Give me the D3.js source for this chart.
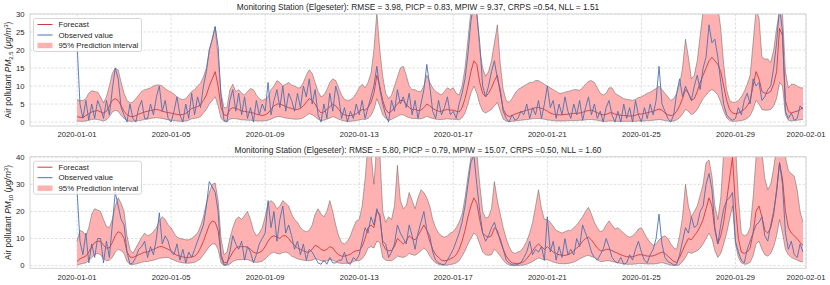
<!DOCTYPE html>
<html><head><meta charset="utf-8">
<script src="https://cdn.jsdelivr.net/npm/d3@7"></script>
<style>
html,body{margin:0;padding:0;background:#fff;}
svg{display:block;font-family:"Liberation Sans",Arial,Helvetica,sans-serif;}
</style></head>
<body>
<svg id="chart" width="830" height="285"></svg>
<script>
// ---- data: 3-hourly values starting 2020-01-01 00:00 ----
const startDate = "2020-01-01T00:00:00Z";
const stepHours = 3;
const xTickLabels = ["2020-01-01","2020-01-05","2020-01-09","2020-01-13","2020-01-17","2020-01-21","2020-01-25","2020-01-29","2020-02-01"];
const pm25Ticks = [0,5,10,15,20,25,30];
const pm10Ticks = [0,10,20,30,40];
const legendLabels = ["Forecast","Observed value","95% Prediction interval"];
const titles = [
  "Monitoring Station (Elgeseter): RMSE = 3.98, PICP = 0.83, MPIW = 9.37, CRPS =0.54, NLL = 1.51",
  "Monitoring Station (Elgeseter): RMSE = 5.80, PICP = 0.79, MPIW = 15.07, CRPS =0.50, NLL = 1.60"
];

const pm25Upper = [
6.2,6,6,6.5,8,8.7,8.5,8.3, 7,5.3,7,10,13.5,15,14.5,11, 8,6,5.3,5.5,6.5,7.5,8.5,9, 9.2,9.5,10,10.3,10.3,10,9.3,8.7,
8.3,7.8,7,6.5,6.2,6.5,7.5,8.5, 9,10,10.8,12.5,15,20,23,26.5, 18,8,4,4,9,10.5,8.5,9, 8,7.5,8.5,9.3,9,7.5,6.5,6,
6.3,7,9,10,11.5,11,10,10.5, 11,10.3,10,9.5,9.5,11,13,14.5, 13.5,11,8.5,7,7.5,9,11,12, 11.5,9.5,7.5,6.3,6,6.2,6.8,8,
9.5,10.5,9.5,11,13.5,20,30.5,20, 12.7,8,6.5,7.5,10,12.5,15,15.5, 13,10,9,9,8.5,8.5,10,13, 11,9.5,8.5,8,7.5,8.5,9.5,9,
9.5,8,7.5,10,15,23,31,35, 31,20,15,12.7,14,17,22,27, 16,9,6,5.5,6.5,8,9,9.5, 10,10.5,11,11,11.5,11.5,11,10.5,
10,9.5,9,8.5,8,8,8.3,8.5, 8.7,9,9,8.8,9.5,10.5,11.3,11.5, 11,9.5,8,7.5,8,9.5,9.5,8, 7.5,7,6.5,6.3,6.2,6,6.3,6.8,
7,7.5,8,8.3,8.8,9.3,10,9, 8,7,6,6.5,8,10.5,15,23, 18,12,13,17,24,31,36,38, 38,36,32,26,16,9,6,5.5,
5.5,6,7,8.5,10.5,13,22,31, 29,18,17.5,17.5,16.5,20,26,31, 30,14,9.5,10.5,10.5,10,9.5,9.5
];
const pm25Forecast = [
1.5,1.3,1.3,1.8,2.3,2.8,3,3.2, 2.8,2.5,3,4.5,6,6.5,6,4.5, 3,2,1.6,1.5,1.8,2.2,2.5,2.8, 3,3.2,3.4,3.5,3.3,3,2.8,2.6,
2.5,2.3,2.1,2,2.1,2.4,3,3.8, 4,4.3,4.8,6,7.5,10,12,14, 10,4,2,1.8,3.5,4,3.8,3.5, 3,3,2.8,2.7,2.5,2.2,2,1.8,
2,2.5,3.5,4.5,5,5,4.7,4.3, 4,3.8,3.5,3.5,3.8,4.5,5.5,6.5, 6,5,3.5,2.5,2.8,3.5,4.2,5, 4.5,3.5,2.5,2,1.8,1.8,2,2.3,
3,3.5,3.3,4,5.5,8,13,10, 6,3.5,2.5,3,4,5,6,6, 5,4,3.5,3.5,3.2,3.3,4,5, 4.5,3.8,3.3,3,3,3.3,3.5,3.3,
3.3,3,2.8,4,6.5,10,14,17, 16,11,8,7,8,9.5,11.5,13, 8,3.5,2,1.5,1.8,2.2,2.5,2.8, 3,3.3,3.5,3.7,4,4,3.8,3.5,
3,2.5,2.2,2,2,2,2.1,2.2, 2.3,2.4,2.4,2.5,2.7,3,3.2,3.3, 3,2.6,2.2,2,2.1,2.5,2.6,2.2, 2,1.9,1.8,1.7,1.7,1.7,1.9,2.2,
2.2,2.4,2.6,2.8,3,3.3,3.6,3.3, 2.5,2,1.8,2,3,4.5,6.5,9, 8,6,6.5,8.5,11,13,15,17, 18,17,16,14,10,6,3.5,2.5,
2.3,2.5,3,3.5,4.5,6,10,14, 12,8.5,8,8,8.5,10.5,14,26, 24,6,3,2.5,2.8,3,3.5,4
];
const pm25Lower = [
0.3,0.2,0.2,0.3,0.5,0.7,0.8,0.7, 0.5,0.3,0.6,1.5,2.8,3.2,3,1.8, 1,0.4,0.2,0.2,0.3,0.4,0.5,0.7, 0.8,1,1.1,1.2,1.1,1,0.8,0.6,
0.5,0.4,0.3,0.2,0.2,0.3,0.5,0.9, 1,1.2,1.5,2.5,3.5,5,6,7, 4.5,1,0.2,0.2,0.8,1,0.9,0.8, 0.6,0.6,0.5,0.5,0.4,0.3,0.3,0.3,
0.4,0.5,0.8,1.2,1.5,1.5,1.3,1.1, 1,0.9,0.8,0.8,0.9,1.2,1.8,2.3, 2,1.5,0.8,0.4,0.5,0.8,1.1,1.5, 1.2,0.8,0.5,0.3,0.2,0.2,0.3,0.4,
0.6,0.8,0.7,1,1.8,3.5,6.5,4.5, 2,1,0.5,0.7,1.2,1.6,2,2, 1.5,1.2,1,1,0.9,0.9,1.2,1.6, 1.2,1,0.8,0.7,0.7,0.8,0.9,0.8,
0.8,0.7,0.6,1.2,2.5,5,8,10, 8,5,3,2.5,3,3.5,4.5,5.5, 3,0.8,0.3,0.1,0.2,0.3,0.4,0.5, 0.6,0.7,0.8,0.9,1,1,0.9,0.8,
0.6,0.5,0.4,0.3,0.3,0.3,0.3,0.4, 0.4,0.4,0.4,0.5,0.5,0.6,0.7,0.7, 0.6,0.5,0.3,0.2,0.2,0.3,0.3,0.2, 0.2,0.2,0.2,0.2,0.2,0.2,0.2,0.3,
0.3,0.3,0.4,0.4,0.5,0.6,0.7,0.6, 0.4,0.3,0.2,0.3,0.6,1.2,2.2,3.5, 3,2,2.5,3.5,5,6.5,7.5,8.5, 9,8.5,7.5,5.5,3,1.2,0.4,0.2,
0.2,0.3,0.4,0.6,1,1.8,3.5,6, 5,3.5,3.3,3.3,3.5,4.5,6.5,11, 10,2,0.5,0.3,0.4,0.5,0.6,0.7
];
const pm25Observed = [
22,5,1,6,0.5,5,1,6, 4,1,6,2,9,15,12,4, 2,0,5,1,0,4,6,1, 1,5,2,7,10,3,6,1,
0,3,7,2,0,5,1,8, 2,7,4,10,14,20,23,26.5, 21,7,0.5,0,6,9,3,8, 2,7,1,4,0,6,2,5,
3,11,2,6,9,4,10,3, 8,6,3,8,4,10,7,12, 5,9,2,0,5,1,8,3, 10,7,1,4,0,3,1,5,
2,6,1,4,7,10,15.5,9, 5,2,0,6,3,9,5,7, 4,8,2,6,1,5,9,16, 10,3,1,6,2,4,7,2,
3,1,5,8,12,19,28,33, 30,22,10,7,10,14,17,12, 9,3,1,0,2,0.5,1,3, 2,5,1,4,2,6,1,5,
10,4,6,1,5,2,7,3, 1,5,2,6,0.5,4,7,2, 5,1,3,0,4,6,2,0, 3,0,5,1,4,0,6,2,
0,4,1,5,2,6,15.5,5, 3,1,0,2,8,12,7,10, 8,6,10,13,9,15,18,27, 22,23,18,11,5,2,1,0.5,
1,4,2,6,8,5,12,10, 11,6,7,9,10,15,22,32, 25,3,1,2.5,0.5,1,4.5,3.5
];

const pm10Upper = [
9,13,12.5,11,14,19,21,20.5, 20,17,14.5,14,17,22,25,23, 20,11,6,4.5,6.5,8.5,10.5,12, 11,11.5,12.5,14,16.5,18,17,15,
14,12,10.5,10,9.8,9.5,9.5,10, 11,12,14.5,18,23,27,30,30.5, 24,10,4,5,10,14,17,18, 17,18.5,20,17,13,11,12,14,
18,23,24,23,21,22,24,23, 22,19,17,16,14,13,12.5,13, 15,19,21,19,18,20,24,20, 15,11,8.5,8,9,11,14,16.5,
17,22,32,45,42,30,45,42, 20,16,18,17,22,37,24,21, 22,27,24,21,25,28,27,25, 22,17,14,12,11,10.5,11,12,
12.5,14,16,19,25,33,40,45, 42,30,20,17.5,18,21,31,24, 19,14,10,7,5,4.5,5,5.5, 7,9,12,16,22,28,21,17,
17,16,14.5,13,12.5,12,12.5,13, 13,14,15,16.5,18,20,21.5,19, 16,14,12.5,13,15,16.5,15,13.5, 14,13,12,11,10.5,11,12,13.5,
14,12,10,8.5,7.5,8,9.5,10.5, 11,10,8,6.5,6,11,18,30, 22,18,20,22,26,30,38,39, 33,22,17,25,42,48,50,50,
45,25,12,11,11.5,14,25,40, 45,42,32,28,30,36,44,50, 45,40,35,34,33,28,20,16
];
const pm10Forecast = [
1.5,2.5,3,3.5,5,7,8.5,9, 9,7.5,6.5,6.5,8.5,11,12.5,12, 10,5,3.2,3,3.5,4,4.5,5, 5,5.5,6,6.5,7,7,6.5,6,
5.5,4.5,3.8,3.5,3.2,3,3,3.2, 3.5,4.5,6.5,9,12,15,16.5,16, 13,4,1,1.2,3,5,6.5,7, 7,7,6.8,6,5,4.5,4.8,5.5,
7,9,10.5,11,10.5,10,11,11, 10,8.5,7.5,6.5,6,5.5,5,5, 6,7.5,7,6,5.5,6,7,6.5, 5,4,3.5,3.5,3.8,4.2,5,5.5,
5.5,7,10,14,15,14,20,19, 8,6,5.5,5.5,7,10,9,8, 9,11,10,9.5,11,13,15,13, 9,6,4,3,2,1.8,2,2.5,
3,4,6,9,13,18,22,25, 23,17,12,11,10.5,11,14,13, 9,6,3.5,2,1,0.8,0.8,1, 1.5,2.5,4,5.5,7,8,7,6,
7,6,5,4.5,4,3.8,3.8,4, 4.5,5.5,6.5,7.5,9,10,10.5,9.5, 8,6.5,5.5,5.5,6,6,5.5,5, 4.5,4,3.6,3.3,3.2,3.3,3.6,4,
4,3.8,3.5,3.5,3.6,4,4.5,5, 4.5,3.5,2.5,1.5,1.2,3,5.5,8, 10,9.5,11,12.5,14.5,17,21,25, 22,13,8,11,16,24,32,40,
22,10,5,4.5,5,6.5,12,20, 22,18,13,12,14,19,28,38, 32,20,14,12,11,10,8.5,7.5
];
const pm10Lower = [
0.2,0.5,0.8,1,1.8,3,4,4.5, 4,2.5,1.8,2,3,5,6,5.5, 4.5,1.5,0.5,0.4,0.6,0.9,1.2,1.5, 1.5,1.8,2,2.3,2.7,2.8,3,3,
2.5,2,1.5,1.2,1,0.9,0.9,1, 1.2,1.8,2.5,4,5.5,7,8,8, 6,1,0,0.1,0.6,1.5,2,2.2, 2.2,2.3,2.2,1.8,1.4,1.2,1.3,1.6,
2.5,3.5,4.5,5,4.5,4.3,4.8,5, 4.5,3.5,3,2.5,2.2,2,1.8,1.8, 2,2.5,2.3,1.8,1.5,1.8,2.2,2, 1.5,1,0.8,0.8,0.9,1,1.5,1.8,
1.8,2.5,4,6.5,7,6.5,9,8.5, 3,2,1.8,1.8,2.5,3.5,3.2,3, 3.5,4.5,4,3.8,4.5,5.5,6.5,5.5, 3.5,2,1,0.5,0.2,0.1,0.2,0.4,
0.6,1,1.8,3.5,5.5,8,10,12, 11,8,5,4,3.8,4,6,5, 3.5,2,0.8,0.2,0,0,0,0.1, 0.2,0.5,1,1.5,2.2,2.8,2.5,2,
2.2,1.8,1.3,1,0.8,0.7,0.7,0.8, 1,1.3,1.8,2.5,3,3.5,3.8,3.3, 3,2.2,1.5,1.5,1.8,1.8,1.5,1.3, 1,0.8,0.6,0.5,0.5,0.5,0.6,0.8,
0.8,0.7,0.6,0.6,0.6,0.7,0.9,1.1, 0.8,0.5,0.2,0,0,0.3,1.5,3, 5,4.5,5,5.5,6.5,8,10,12, 10,5.5,3,4.5,8,12,17,22,
8,3,1,0.5,0.6,1.2,3.5,8, 9,6,4,3.5,4.5,7,11,17, 12,6,4,3,2.5,2,1.5,1.3
];
const pm10Observed = [
28,9,4,12,1,8,3,10, 10,1,9,3,15,27,22,17, 15,5,0.5,1,3,6,7,9, 3,7,4,10,19.5,8,11,9,
5,4,8,2,6,1,5,3, 6,9,12,15,22,31,29,27, 20,3,0.2,0.5,5,11,8,6, 9,2,7,5,1,4,8,10,
12,24,14,20,9,17,22,12, 15,11,6,9,4,8,2,6, 5,3,1,0.5,2,0.5,3,1, 1,2,2,5,1,0.5,3,2,
4,9,14,12,18,15,21,18, 9,8,3,5,8,15,12,10, 8,15,11,6,12,16,20,13, 11,5,2,1,0.5,0.3,2,4,
6,9,12,16,22,30,38,41, 30,20,12,9,11,14,16,12, 10,6,2,1,0.3,0.2,0.5,1, 3,5,9,4,6,5,7,2,
18,5,9,2,7,3,10,4, 6,4,10,7,15,12,9,5, 3,2,4,6,10,7,3,1.5, 1,3,0.5,1,4,2,6,9,
5,2,1,4,6,10,19,8, 3,1.5,1,0.2,0.5,4,9,14, 12,18,14,15,20,22,30,34, 28,14,8,15,21,24,25,27,
9,5,2,1,6,9,12,15, 16,18,11,9,15,20,27,38, 30,12,6,9,4,3,8,5
];

// ---- layout ----
const W = 830, H = 285;
const plotLeft = 30, plotRight = 806;
const panels = [
  {top:14, bottom:126, yMin:-1.1, yMax:30, ticks:pm25Ticks, upper:pm25Upper, lower:pm25Lower,
   forecast:pm25Forecast, observed:pm25Observed, title:titles[0], sub:"2.5"},
  {top:156.7, bottom:268.3, yMin:-1, yMax:40.2, ticks:pm10Ticks, upper:pm10Upper, lower:pm10Lower,
   forecast:pm10Forecast, observed:pm10Observed, title:titles[1], sub:"10"}
];
const colors = {band:"#ffb1b1", edge:"#555", forecast:"#d1393c", observed:"#4c72b0", grid:"#d2d2d2", frame:"#d0d0d0", text:"#262626"};

const t0 = new Date(startDate).getTime();
const n = pm25Upper.length;
const times = d3.range(n).map(i => new Date(t0 + i*stepHours*3600e3));
const tickDates = xTickLabels.map(s => new Date(s + "T00:00:00Z"));

const x = d3.scaleUtc()
  .domain([new Date("2019-12-30T00:00:00Z"), new Date("2020-02-01T00:00:00Z")])
  .range([plotLeft, plotRight]);

const svg = d3.select("#chart");
svg.append("rect").attr("width",W).attr("height",H).attr("fill","#fff");

panels.forEach((p, pi) => {
  const y = d3.scaleLinear().domain([p.yMin, p.yMax]).range([p.bottom, p.top]);
  const g = svg.append("g");
  const clipId = "clip" + pi;
  g.append("clipPath").attr("id", clipId).append("rect")
    .attr("x", plotLeft).attr("y", p.top).attr("width", plotRight-plotLeft).attr("height", p.bottom-p.top);

  // grid
  const grid = g.append("g");
  grid.selectAll(".gy").data(p.ticks).join("line")
    .attr("x1", plotLeft).attr("x2", plotRight)
    .attr("y1", d => y(d)).attr("y2", d => y(d))
    .attr("stroke", colors.grid).attr("stroke-width", 0.7).attr("stroke-dasharray", "2.6,1.6");
  grid.selectAll(".gx").data(tickDates).join("line")
    .attr("x1", d => x(d)).attr("x2", d => x(d))
    .attr("y1", p.top).attr("y2", p.bottom)
    .attr("stroke", colors.grid).attr("stroke-width", 0.7).attr("stroke-dasharray", "2.6,1.6");

  const data = times.map((t,i) => ({t, u:p.upper[i], l:p.lower[i], f:p.forecast[i], o:p.observed[i]}));
  const plot = g.append("g").attr("clip-path", `url(#${clipId})`);

  plot.append("path").datum(data)
    .attr("d", d3.area().x(d => x(d.t)).y0(d => y(d.l)).y1(d => y(d.u)))
    .attr("fill", colors.band).attr("stroke", "none");
  plot.append("path").datum(data)
    .attr("d", d3.line().x(d => x(d.t)).y(d => y(d.u)))
    .attr("fill","none").attr("stroke", colors.edge).attr("stroke-width", 0.55).attr("stroke-opacity",0.85);
  plot.append("path").datum(data)
    .attr("d", d3.line().x(d => x(d.t)).y(d => y(d.l)))
    .attr("fill","none").attr("stroke", colors.edge).attr("stroke-width", 0.55).attr("stroke-opacity",0.85);
  plot.append("path").datum(data)
    .attr("d", d3.line().x(d => x(d.t)).y(d => y(d.f)))
    .attr("fill","none").attr("stroke", colors.forecast).attr("stroke-width", 0.9);
  plot.append("path").datum(data)
    .attr("d", d3.line().x(d => x(d.t)).y(d => y(d.o)))
    .attr("fill","none").attr("stroke", colors.observed).attr("stroke-width", 0.9);

  // frame
  g.append("rect").attr("x", plotLeft).attr("y", p.top)
    .attr("width", plotRight-plotLeft).attr("height", p.bottom-p.top)
    .attr("fill","none").attr("stroke", colors.frame).attr("stroke-width", 0.9);

  // y tick labels
  g.selectAll(".yt").data(p.ticks).join("text")
    .attr("x", plotLeft - 5.5).attr("y", d => y(d)).attr("dy","0.35em")
    .attr("text-anchor","end").attr("font-size", 7.7).attr("fill", colors.text)
    .text(d => d);
  // x tick labels
  g.selectAll(".xt").data(tickDates).join("text")
    .attr("x", d => x(d)).attr("y", p.bottom + 11.3)
    .attr("text-anchor","middle").attr("font-size", 7.6).attr("fill", colors.text)
    .text((d,i) => xTickLabels[i]);

  // title
  g.append("text").attr("x", (plotLeft+plotRight)/2).attr("y", p.top - 4)
    .attr("text-anchor","middle").attr("font-size", 8.3).attr("fill", colors.text)
    .text(p.title);

  // y label
  const cy = (p.top + p.bottom)/2;
  const yl = g.append("text").attr("transform", `translate(11,${cy}) rotate(-90)`)
    .attr("text-anchor","middle").attr("font-size", 8.3).attr("fill", colors.text);
  yl.append("tspan").text("Air pollutant ");
  yl.append("tspan").attr("font-style","italic").text("PM");
  yl.append("tspan").attr("font-size", 6).attr("dy", 2).text(p.sub);
  yl.append("tspan").attr("dy", -2).text(" (");
  yl.append("tspan").attr("font-style","italic").text("μg/m");
  yl.append("tspan").attr("font-size", 6).attr("dy", -3.5).text("3");
  yl.append("tspan").attr("dy", 3.5).text(")");

  // legend
  const lg = g.append("g").attr("transform", `translate(33.5,${p.top + 4.5})`);
  lg.append("rect").attr("width", 108).attr("height", 33).attr("rx", 2)
    .attr("fill","#fff").attr("fill-opacity",0.8).attr("stroke","#cccccc").attr("stroke-width",0.8);
  const rows = [6, 16.5, 27];
  lg.append("line").attr("x1",4).attr("x2",19).attr("y1",rows[0]).attr("y2",rows[0])
    .attr("stroke", colors.forecast).attr("stroke-width",1);
  lg.append("line").attr("x1",4).attr("x2",19).attr("y1",rows[1]).attr("y2",rows[1])
    .attr("stroke", colors.observed).attr("stroke-width",1);
  lg.append("rect").attr("x",4).attr("width",15).attr("y",rows[2]-2.7).attr("height",5.4)
    .attr("fill", colors.band);
  legendLabels.forEach((s,i) => {
    lg.append("text").attr("x", 25).attr("y", rows[i]).attr("dy","0.35em")
      .attr("font-size", 7.8).attr("fill", colors.text).text(s);
  });
});
</script>
</body></html>
